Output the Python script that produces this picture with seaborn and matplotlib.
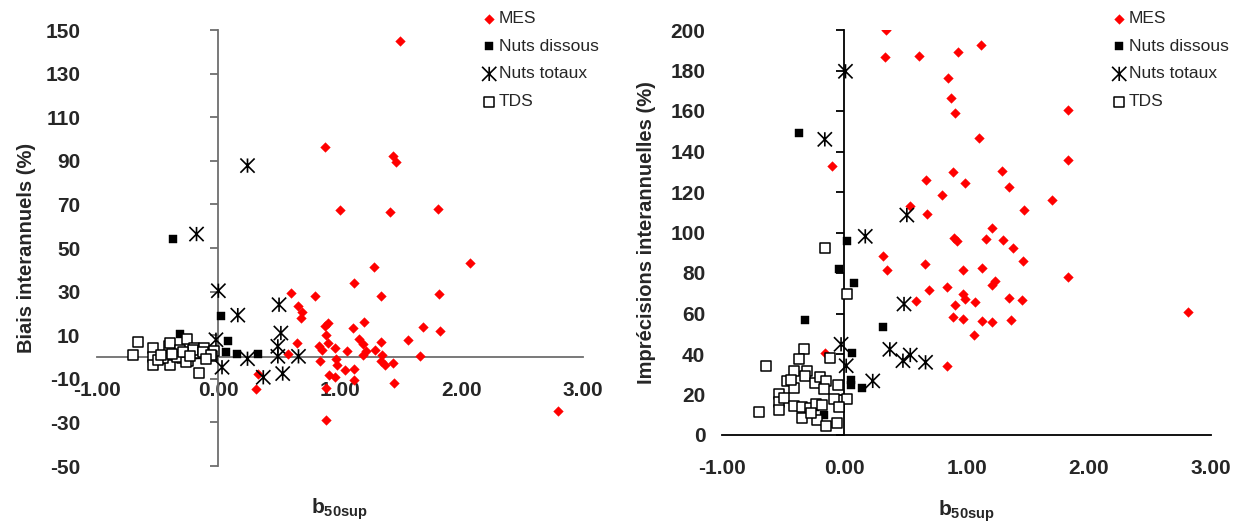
import matplotlib
matplotlib.use("Agg")
import matplotlib.pyplot as plt
import seaborn as sns
import pandas as pd
from matplotlib.path import Path

# ---------------- Biais interannuels ----------------
biais_mes_b50 = [1.50, 0.88, 1.44, 1.46, 1.00, 1.41, 1.81, 2.07, 1.28, 1.12, 0.60, 0.80,
                 1.34, 1.82, 0.66, 0.69, 0.68, 1.20, 1.69, 1.11, 0.88, 0.90, 1.83, 0.89,
                 1.16, 1.56, 0.65, 0.90, 1.19, 1.34, 0.83, 0.85, 0.96, 1.06, 1.22, 1.29,
                 1.19, 1.66, 1.35, 0.97, 0.84, 0.98, 1.34, 1.37, 1.44, 1.04, 1.12, 0.91,
                 0.96, 1.12, 1.45, 0.89, 0.89, 2.80, 0.31, 0.33, 0.57, -0.12]
biais_mes = [145.0, 96.5, 92.3, 89.4, 67.4, 66.3, 68.0, 42.9, 41.1, 34.1, 29.3, 28.1,
             28.1, 28.7, 23.5, 20.5, 17.9, 16.0, 13.7, 13.1, 14.4, 15.6, 12.1, 10.2,
             8.4, 7.9, 6.6, 6.4, 6.0, 6.7, 4.9, 3.1, 4.1, 2.6, 2.9, 3.1,
             0.8, 0.6, 0.8, -0.8, -1.7, -3.5, -1.8, -3.7, -2.7, -5.8, -5.3, -8.1,
             -9.2, -10.4, -11.9, -14.2, -29.0, -24.9, -14.6, -8.0, 1.5, 0.3]

biais_dis_b50 = [-0.375, 0.02, -0.32, 0.08, 0.06, 0.15, 0.33, -0.43, -0.21, -0.09,
                 -0.30, -0.15, -0.40]
biais_dis = [54.1, 18.9, 10.7, 7.2, 2.1, 1.5, 1.5, -1.4, 0.9, 0.0, 2.0, 1.0, 0.5]

biais_tot_b50 = [0.24, -0.18, 0.00, 0.16, 0.50, 0.515, 0.49, -0.02, 0.03, 0.24,
                 0.66, 0.37, 0.53, 0.49]
biais_tot = [87.8, 56.4, 30.4, 19.2, 24.0, 11.0, 4.9, 7.9, -4.7, -0.8, 0.3, -9.3, -7.6, 0.3]

biais_tds_b50 = [-0.70, -0.66, -0.535, -0.535, -0.535, -0.41, -0.40, -0.40, -0.26, -0.16,
                 -0.25, -0.32, -0.20, -0.12, -0.04, -0.05, -0.46, -0.30, -0.17, -0.50,
                 -0.34, -0.27, -0.21, -0.13, -0.29, -0.47, -0.06, -0.38, -0.23, -0.10]
biais_tds = [0.8, 6.9, 4.1, 0.0, -3.8, 4.9, 6.4, -3.8, 8.4, -7.3,
             -2.0, 3.4, 4.1, 4.1, 2.6, 0.3, -0.5, -0.5, 1.8, -1.4,
             0.1, -2.2, 3.2, 2.4, 2.4, 0.9, 0.9, 1.5, 0.5, -1.0]

# ---------------- Imprécisions interannuelles ----------------
impr_mes_b50 = [0.34, 1.12, 0.33, 0.61, 0.93, 0.85, 0.87, 0.91, 1.83, 1.10, 1.83, 0.89,
                1.29, 0.67, 0.99, 1.35, 0.80, 1.70, 0.54, 0.68, 1.47, 1.21, 0.90, 0.92,
                1.16, 1.30, 1.38, 0.32, 0.66, 1.46, 0.35, 0.97, 1.13, 1.83, 1.23, 1.21,
                0.69, 0.84, 0.97, 0.99, 1.07, 1.35, 1.45, 0.91, 0.59, 2.81, 0.89, 0.97,
                1.13, 1.21, 1.36, 1.06, 0.84, -0.10, -0.16]
impr_mes = [200.0, 192.6, 186.6, 187.4, 189.3, 176.4, 166.2, 159.0, 160.3, 146.9, 135.9, 129.7,
            130.2, 125.7, 124.4, 122.3, 118.7, 116.1, 113.1, 109.0, 111.0, 102.0, 97.5, 95.6,
            96.7, 96.2, 92.3, 88.5, 84.4, 85.9, 81.3, 81.3, 82.6, 78.2, 76.2, 74.1,
            71.6, 73.1, 69.7, 67.2, 65.9, 67.9, 66.6, 64.1, 66.4, 60.8, 58.2, 57.5,
            56.4, 55.6, 57.0, 49.2, 33.9, 132.8, 40.7]

impr_dis_b50 = [-0.37, 0.026, -0.039, 0.081, -0.321, 0.314, 0.063, 0.058, 0.058, 0.146,
                -0.43, -0.04, -0.167, -0.24]
impr_dis = [149.3, 96.0, 81.8, 74.9, 56.8, 53.5, 40.3, 27.2, 24.7, 23.4, 27.0, 14.4, 10.0, 14.0]

impr_tot_b50 = [0.01, -0.159, 0.172, 0.512, 0.489, -0.026, 0.016, 0.373, 0.48, 0.665,
                0.233, 0.54]
impr_tot = [179.6, 146.0, 98.1, 108.6, 64.7, 44.8, 34.2, 42.3, 36.7, 35.9, 26.7, 39.5]

impr_tds_b50 = [-0.159, 0.026, -0.113, -0.331, -0.373, -0.639, -0.415, -0.308, -0.324, -0.47,
                -0.415, -0.243, -0.201, -0.146, -0.055, -0.535, -0.535, -0.535, -0.496, -0.415,
                -0.347, -0.282, -0.233, -0.178, -0.162, -0.081, 0.026, -0.697, -0.347, -0.22,
                -0.146, -0.062, -0.039, -0.438, -0.276]
impr_tds = [92.5, 69.5, 38.2, 42.3, 37.7, 34.2, 31.8, 31.8, 29.1, 26.7,
            23.0, 25.5, 28.8, 26.7, 24.7, 20.2, 16.1, 12.3, 18.1, 14.3,
            13.7, 13.2, 15.1, 14.8, 22.6, 17.6, 17.6, 11.2, 8.6, 7.4,
            4.6, 5.8, 13.7, 27.2, 10.7]

series_labels = ["MES", "Nuts dissous", "Nuts totaux", "TDS"]
x_ticks = [-1, 0, 1, 2, 3]
x_tick_labels = ["-1.00", "0.00", "1.00", "2.00", "3.00"]
biais_ticks = [-50, -30, -10, 10, 30, 50, 70, 90, 110, 130, 150]
impr_ticks = [0, 20, 40, 60, 80, 100, 120, 140, 160, 180, 200]

sns.set_style("white")
plt.rcParams["font.family"] = ["Liberation Sans", "DejaVu Sans"]
plt.rcParams["axes.unicode_minus"] = False
plt.rcParams["mathtext.fontset"] = "custom"
plt.rcParams["mathtext.rm"] = "Liberation Sans"
plt.rcParams["mathtext.bf"] = "Liberation Sans:bold"

# Excel-style "star" marker: an X crossed by a vertical bar
star = Path([(-1, -1), (1, 1), (-1, 1), (1, -1), (0, -1), (0, 1)],
            [Path.MOVETO, Path.LINETO, Path.MOVETO, Path.LINETO, Path.MOVETO, Path.LINETO])


def draw_panel(ax, xs, ys, yticks, axis_color):
    frames = [pd.DataFrame({"b50": x, "v": y}) for x, y in zip(xs, ys)]
    sns.scatterplot(data=frames[0], x="b50", y="v", ax=ax, marker="D", color="#ff0000",
                    edgecolor="#ff0000", s=24, linewidth=0.3, label=series_labels[0], zorder=3)
    sns.scatterplot(data=frames[1], x="b50", y="v", ax=ax, marker="s", color="black",
                    edgecolor="black", s=30, linewidth=0.3, label=series_labels[1], zorder=3)
    sns.scatterplot(data=frames[2], x="b50", y="v", ax=ax, marker=star, color="black",
                    edgecolor="black", facecolor="none", s=105, linewidth=1.2,
                    label=series_labels[2], zorder=3)
    sns.scatterplot(data=frames[3], x="b50", y="v", ax=ax, marker="s", color="white",
                    edgecolor="black", s=42, linewidth=1.1, label=series_labels[3], zorder=3)

    ax.set_xlim(-1, 3)
    ax.set_ylim(yticks[0], yticks[-1])
    ax.set_xticks(x_ticks)
    ax.set_xticklabels(x_tick_labels)
    ax.set_yticks(yticks)
    for side in ("top", "right", "left"):
        ax.spines[side].set_visible(False)
    ax.spines["bottom"].set_position(("data", 0))
    ax.spines["bottom"].set_color(axis_color)
    ax.spines["bottom"].set_linewidth(1.3)
    ax.spines["bottom"].set_zorder(1)
    ax.tick_params(axis="x", direction="out", length=6, width=1.3, color=axis_color,
                   pad=11, labelsize=15)
    ax.tick_params(axis="y", length=0, pad=12, labelsize=15)
    for lab in ax.get_xticklabels() + ax.get_yticklabels():
        lab.set_fontweight("bold")

    # vertical axis line crossing at b50sup = 0
    vax = ax.secondary_yaxis(0.25)
    vax.set_yticks(yticks)
    vax.tick_params(axis="y", direction="out", length=6, width=1.3, color=axis_color,
                    labelleft=False, labelright=False)
    vax.spines["left"].set_color(axis_color)
    vax.spines["left"].set_linewidth(1.3)
    vax.set_zorder(0.5)

    ax.set_xlabel(r"$\mathbf{b}_{\mathbf{50sup}}$", fontsize=15)
    ax.get_legend().remove()


fig = plt.figure(figsize=(12.37, 5.25), dpi=100)
W, H = 1237, 525
ax1 = fig.add_axes([97 / W, 1 - 466 / H, (582.5 - 97) / W, (466 - 30) / H])
ax2 = fig.add_axes([722 / W, 1 - 435 / H, (1211 - 722) / W, (435 - 30) / H])

draw_panel(ax1, [biais_mes_b50, biais_dis_b50, biais_tot_b50, biais_tds_b50],
           [biais_mes, biais_dis, biais_tot, biais_tds], biais_ticks, "#6e6e6e")
draw_panel(ax2, [impr_mes_b50, impr_dis_b50, impr_tot_b50, impr_tds_b50],
           [impr_mes, impr_dis, impr_tot, impr_tds], impr_ticks, "black")

ax1.set_ylabel("Biais interannuels (%)", fontsize=14.5, fontweight="bold")
ax2.set_ylabel("Imprécisions interannuelles (%)", fontsize=14.5, fontweight="bold")
ax1.yaxis.set_label_coords(-0.125, 0.5)
ax2.yaxis.set_label_coords(-0.135, 0.5)
ax1.xaxis.set_label_coords(0.5, -0.07)
ax2.xaxis.set_label_coords(0.5, -0.155)

for ax, left in ((ax1, 484), (ax2, 1114)):
    handles, labels = ax.get_legend_handles_labels()
    fig.legend(handles, labels, loc="upper left", bbox_to_anchor=(left / W, 1 - 11 / H),
               frameon=False, fontsize=12.5, handlelength=0.6, handletextpad=0.25,
               borderpad=0, borderaxespad=0, labelspacing=0.72)

fig.savefig("out.png", dpi=100)
